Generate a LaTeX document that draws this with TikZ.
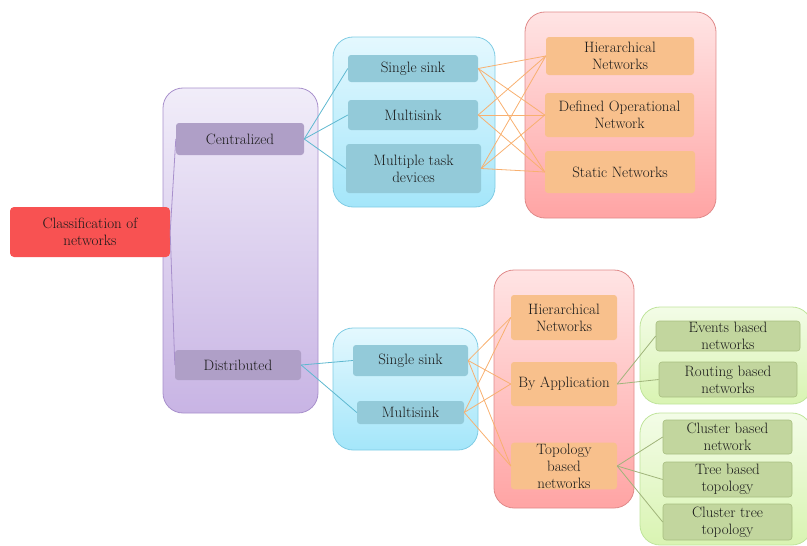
\documentclass[tikz,border=0pt]{standalone}
\usepackage{xcolor}
\definecolor{rootred}{HTML}{F85252}
\definecolor{purtop}{HTML}{F1EDF9}
\definecolor{purbot}{HTML}{C8B4E4}
\definecolor{purline}{HTML}{A890CC}
\definecolor{purnode}{HTML}{AF9FC7}
\definecolor{bluetop}{HTML}{E4F8FE}
\definecolor{bluebot}{HTML}{A4E6FA}
\definecolor{blueline}{HTML}{80CCE4}
\definecolor{bluenode}{HTML}{93CAD9}
\definecolor{bluelink}{HTML}{5EB8D0}
\definecolor{redtop}{HTML}{FFE4E4}
\definecolor{redbot}{HTML}{FFA4A4}
\definecolor{redline}{HTML}{E08A8A}
\definecolor{orangenode}{HTML}{F8C08C}
\definecolor{orangelink}{HTML}{F8B070}
\definecolor{greentop}{HTML}{F3FCE7}
\definecolor{greenbot}{HTML}{D9F4B2}
\definecolor{greenline}{HTML}{C0E49C}
\definecolor{greennode}{HTML}{C2D69E}
\definecolor{greenborder}{HTML}{A8BE80}
\definecolor{greenlink}{HTML}{A0B47A}
\definecolor{txt}{HTML}{1A1A1A}
\tikzset{
  box/.style={rectangle, rounded corners=3pt, align=center, text=txt, inner sep=1pt,
    font=\fontsize{15}{17}\selectfont},
  rootbox/.style={box, fill=rootred, rounded corners=4pt},
  purbox/.style={box, fill=purnode},
  bluebox/.style={box, fill=bluenode},
  orbox/.style={box, fill=orangenode},
  grbox/.style={box, fill=greennode, draw=greenborder, line width=0.6pt},
  purcont/.style={top color=purtop, bottom color=purbot, draw=purline, line width=0.8pt, rounded corners=20pt},
  bluecont/.style={top color=bluetop, bottom color=bluebot, draw=blueline, line width=0.8pt, rounded corners=20pt},
  redcont/.style={top color=redtop, bottom color=redbot, draw=redline, line width=0.8pt, rounded corners=20pt},
  grcont/.style={top color=greentop, bottom color=greenbot, draw=greenline, line width=0.8pt, rounded corners=20pt},
  purlink/.style={draw=purline, line width=0.8pt},
  bluelk/.style={draw=bluelink, line width=0.8pt},
  orlk/.style={draw=orangelink, line width=0.8pt},
  grlk/.style={draw=greenlink, line width=0.8pt},
}
\newcommand{\bx}[7]{\node[#1, minimum width=#4pt-#3pt, minimum height=#6pt-#5pt] (#2) at ({(#3+#4)/2},{(#5+#6)/2}) {#7};}
\begin{document}
\begin{tikzpicture}[x=1pt,y=-1pt]
\useasboundingbox (0,0) rectangle (807,546);
% containers
\shadedraw[purcont] (163,88) rectangle (318,413);
\shadedraw[bluecont] (333,37) rectangle (495,207);
\shadedraw[redcont] (525,12) rectangle (716,218);
\shadedraw[bluecont] (333,328) rectangle (478,450);
\shadedraw[redcont] (494,270) rectangle (634,508);
\shadedraw[grcont] (640,307) rectangle (812,404);
\shadedraw[grcont] (640,413) rectangle (812,545);
% nodes
\bx{rootbox}{root}{10}{170}{207}{257}{Classification of\\networks}
\bx{purbox}{cen}{176}{304}{123}{155}{Centralized}
\bx{purbox}{dist}{175}{301}{350}{380}{Distributed}
\bx{bluebox}{ss1}{348}{478}{55}{82}{Single sink}
\bx{bluebox}{ms1}{348}{478}{100}{130}{Multisink}
\bx{bluebox}{mt1}{346}{481}{144}{193}{Multiple task\\devices}
\bx{orbox}{hn1}{546}{694}{37}{75}{Hierarchical\\Networks}
\bx{orbox}{don}{545}{694}{93}{137}{Defined Operational\\Network}
\bx{orbox}{stn}{545}{695}{151}{193}{Static Networks}
\bx{bluebox}{ss2}{353}{468}{345}{376}{Single sink}
\bx{bluebox}{ms2}{357}{464}{401}{424}{Multisink}
\bx{orbox}{hn2}{511}{617}{295}{340}{Hierarchical\\Networks}
\bx{orbox}{bya}{511}{617}{362}{406}{By Application}
\bx{orbox}{top}{511}{617}{443}{489}{Topology\\based\\networks}
\bx{grbox}{evb}{656}{800}{321}{351}{Events based\\networks}
\bx{grbox}{rtb}{659}{797}{362}{397}{Routing based\\networks}
\bx{grbox}{clb}{663}{792}{420}{454}{Cluster based\\network}
\bx{grbox}{trb}{663}{792}{462}{497}{Tree based\\topology}
\bx{grbox}{ctt}{663}{792}{504}{540}{Cluster tree\\topology}
% connectors
\draw[purlink] (cen.west) -- (root.east) -- (dist.west);
\draw[bluelk] (cen.east) -- (ss1.west);
\draw[bluelk] (cen.east) -- (ms1.west);
\draw[bluelk] (cen.east) -- (mt1.west);
\draw[bluelk] (dist.east) -- (ss2.west);
\draw[bluelk] (dist.east) -- (ms2.west);
\foreach \a in {ss1,ms1,mt1}{
  \foreach \b in {hn1,don,stn}{
    \draw[orlk] (\a.east) -- (\b.west);
  }
}
\foreach \a in {ss2,ms2}{
  \foreach \b in {hn2,bya,top}{
    \draw[orlk] (\a.east) -- (\b.west);
  }
}
\draw[grlk] (bya.east) -- (evb.west);
\draw[grlk] (bya.east) -- (rtb.west);
\draw[grlk] (top.east) -- (clb.west);
\draw[grlk] (top.east) -- (trb.west);
\draw[grlk] (top.east) -- (ctt.west);
\end{tikzpicture}
\end{document}
